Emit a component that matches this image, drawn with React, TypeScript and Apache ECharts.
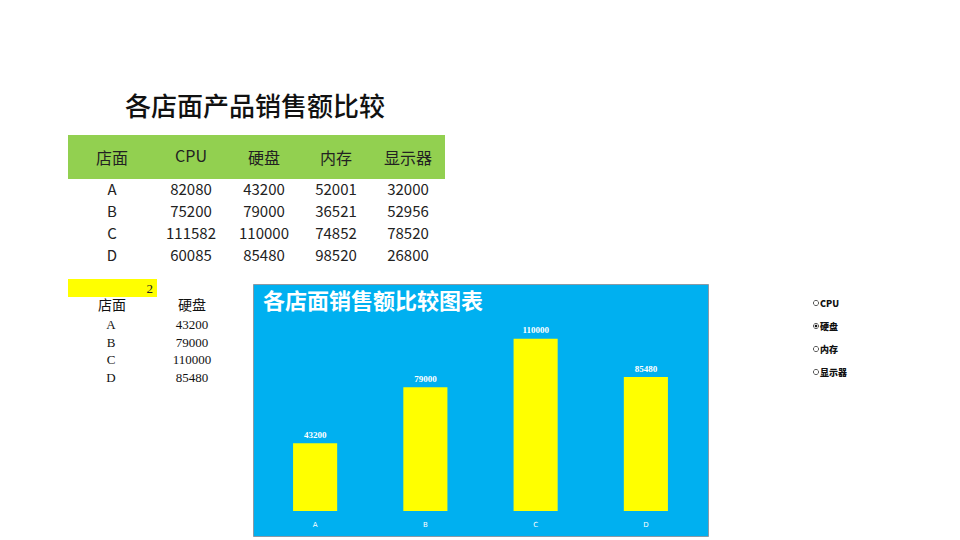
import React, { useEffect, useRef } from "react";
import * as echarts from "echarts";

const stores = ["A", "B", "C", "D"];
const products = ["CPU", "硬盘", "内存", "显示器"];
const cpuSales = [82080, 75200, 111582, 60085];
const diskSales = [43200, 79000, 110000, 85480];
const memSales = [52001, 36521, 74852, 98520];
const monitorSales = [32000, 52956, 78520, 26800];
const selectedIndex = 2;
const tableTitle = "各店面产品销售额比较";
const chartTitle = "各店面销售额比较图表";
const storeHeader = "店面";

export default function App() {
  const ref = useRef<HTMLDivElement>(null);
  useEffect(() => {
    if (!ref.current) return;
    const chart = echarts.init(ref.current, null, { renderer: "svg" });
    const columns = [cpuSales, diskSales, memSales, monitorSales];
    const selected = columns[selectedIndex - 1];
    const colX = [112, 191, 264, 336, 408];
    const rowY = [188, 210, 232, 254];
    const cjk = "'Noto Sans CJK SC', sans-serif";
    const serif = "'Liberation Serif', 'Noto Sans CJK SC', serif";
    const g: any[] = [];
    g.push({ type: "rect", z: -10, shape: { x: 253.5, y: 284.5, width: 455, height: 252 }, style: { fill: "#00B0F0", stroke: "#8a9aa6", lineWidth: 1 } });
    g.push({ type: "text", x: 263, y: 299, style: { text: chartTitle, fill: "#ffffff", font: `bold 22px ${cjk}`, textVerticalAlign: "middle" } });
    g.push({ type: "text", x: 255, y: 104, style: { text: tableTitle, fill: "#111", font: `500 26px ${cjk}`, textAlign: "center", textVerticalAlign: "middle" } });
    g.push({ type: "rect", shape: { x: 68, y: 135, width: 377, height: 44 }, style: { fill: "#92D050" } });
    const headers = [storeHeader, ...products];
    headers.forEach((h, i) => {
      g.push({ type: "text", x: colX[i], y: h === "CPU" ? 155 : 157, style: { text: h, fill: "#222", font: `16px ${cjk}`, textAlign: "center", textVerticalAlign: "middle" } });
    });
    stores.forEach((s, r) => {
      g.push({ type: "text", x: colX[0], y: rowY[r], style: { text: s, fill: "#222", font: `15px ${cjk}`, textAlign: "center", textVerticalAlign: "middle" } });
      columns.forEach((col, c) => {
        g.push({ type: "text", x: colX[c + 1], y: rowY[r], style: { text: String(col[r]), fill: "#222", font: `15px ${cjk}`, textAlign: "center", textVerticalAlign: "middle" } });
      });
    });
    g.push({ type: "rect", shape: { x: 68, y: 279, width: 89, height: 18 }, style: { fill: "#FFFF00" } });
    g.push({ type: "text", x: 153, y: 288, style: { text: String(selectedIndex), fill: "#222", font: `13px ${serif}`, textAlign: "right", textVerticalAlign: "middle" } });
    g.push({ type: "text", x: 112, y: 305, style: { text: storeHeader, fill: "#111", font: `14px ${serif}`, textAlign: "center", textVerticalAlign: "middle" } });
    g.push({ type: "text", x: 192, y: 305, style: { text: products[selectedIndex - 1], fill: "#111", font: `14px ${serif}`, textAlign: "center", textVerticalAlign: "middle" } });
    const subY = [324, 342, 359, 377];
    stores.forEach((s, r) => {
      g.push({ type: "text", x: 111, y: subY[r], style: { text: s, fill: "#111", font: `13px ${serif}`, textAlign: "center", textVerticalAlign: "middle" } });
      g.push({ type: "text", x: 192, y: subY[r], style: { text: String(selected[r]), fill: "#111", font: `13px ${serif}`, textAlign: "center", textVerticalAlign: "middle" } });
    });
    const radioY = [303, 326, 349, 372];
    products.forEach((p, i) => {
      g.push({ type: "circle", shape: { cx: 816, cy: radioY[i], r: 2.6 }, style: { fill: "#fff", stroke: "#333", lineWidth: 0.8 } });
      if (i === selectedIndex - 1) {
        g.push({ type: "circle", shape: { cx: 816, cy: radioY[i], r: 1.3 }, style: { fill: "#111" } });
      }
      g.push({ type: "text", x: 820, y: radioY[i], style: { text: p, fill: "#111", font: `900 9px ${cjk}`, textVerticalAlign: "middle" } });
    });

    chart.setOption({
      animation: false,
      graphic: g,
      grid: { left: 260, top: 323, width: 441, height: 188, containLabel: false },
      xAxis: {
        type: "category",
        data: stores,
        axisLine: { show: false },
        axisTick: { show: false },
        axisLabel: { color: "#ffffff", fontSize: 7, margin: 10, fontFamily: "'DejaVu Sans', sans-serif" },
      },
      yAxis: { type: "value", min: 0, max: 120000, show: false, splitLine: { show: false } },
      series: [
        {
          type: "bar",
          data: selected,
          barWidth: "40%",
          itemStyle: { color: "#FFFF00" },
          label: { show: true, position: "top", color: "#ffffff", fontSize: 9, fontWeight: "bold", fontFamily: "'Liberation Serif', serif", distance: 4 },
        },
      ],
    });
    return () => chart.dispose();
  }, []);
  return <div ref={ref} style={{ width: 960, height: 540, position: "absolute", left: 0, top: 0 }} />;
}
